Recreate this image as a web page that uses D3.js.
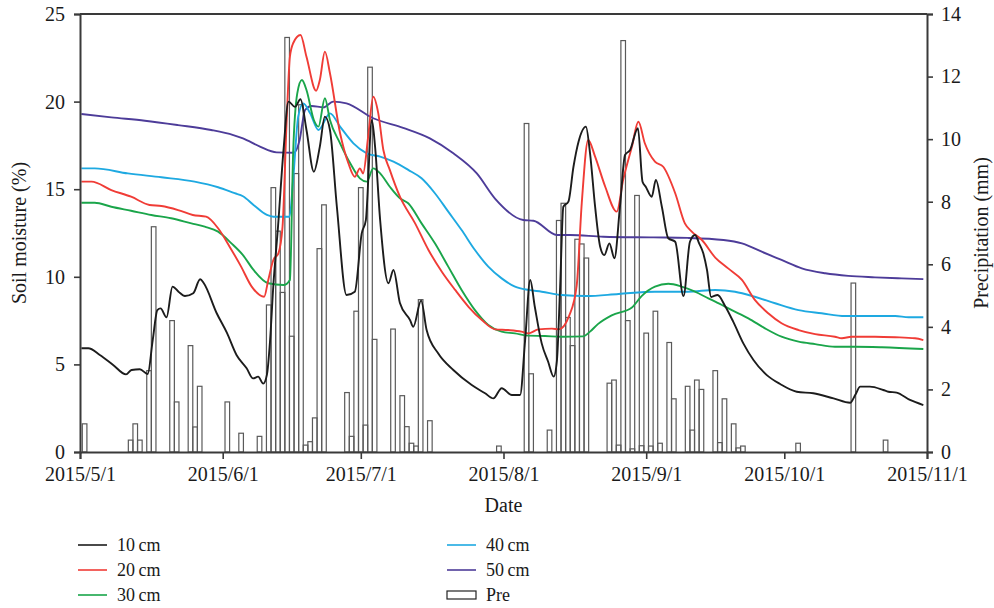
<!DOCTYPE html>
<html>
<head>
<meta charset="utf-8">
<script src="https://cdn.jsdelivr.net/npm/d3@7"></script>
<style>
  body { margin: 0; background: #fff; }
  svg text { font-family: 'Liberation Serif', 'DejaVu Serif', serif; fill: #1a1a1a; }
</style>
</head>
<body>
<div id="chart"></div>
<script>
// days counted from 2015/5/1
const monthDays = [0, 31, 61, 92, 123, 153, 184];
const monthLabels = ['2015/5/1', '2015/6/1', '2015/7/1', '2015/8/1', '2015/9/1', '2015/10/1', '2015/11/1'];
const moistureTicks = [0, 5, 10, 15, 20, 25];
const precipTicks = [0, 2, 4, 6, 8, 10, 12, 14];

// soil moisture (%), [day, value]
const soil10 = [
  [0.3, 5.92], [1.8, 5.92], [4.3, 5.54], [7.2, 4.97], [10, 4.43], [11.2, 4.68], [13, 4.72], [14.7, 4.45],
  [15.8, 6.39], [16.8, 8.1], [17.5, 8.2], [18.8, 7.69], [20.1, 9.44], [21.4, 9.15], [22.8, 8.9], [24.6, 9.06],
  [26.1, 9.86], [26.9, 9.63], [29.7, 7.92], [31.9, 6.81], [34, 5.54], [36.2, 4.78], [37.6, 4.2], [38.7, 4.3],
  [39.8, 3.9], [40.6, 4.4], [41.3, 6.4], [42, 9.5], [43, 12.8], [44.2, 17.2], [45.3, 20.0], [46.7, 19.7],
  [47.9, 20.13], [49.2, 18.38], [50.8, 16.0], [52.1, 17.43], [53.2, 19.14], [54.3, 18.38], [55.8, 14.0],
  [57.9, 8.96], [59.7, 9.15], [61.2, 12.48], [62.1, 13.24], [63.4, 18.95], [64.1, 17.43], [65.2, 13.24],
  [67, 9.63], [68.1, 10.39], [69.5, 8.5], [71.7, 7.53], [72.4, 7.15], [74.1, 8.64], [75.3, 6.96], [77.8, 5.63],
  [81.1, 4.68], [85.1, 3.82], [88, 3.35], [89.8, 3.06], [91.6, 3.64], [93.8, 3.25], [95.6, 3.25], [96.7, 6.39],
  [97.8, 9.82], [98.8, 8.29], [100.3, 6.2], [101.7, 5.15], [102.9, 4.3], [103.6, 5.2], [104.3, 9.4], [105, 14.0],
  [106.1, 14.29], [107.2, 16.28], [108.3, 17.71], [109.9, 18.57], [110.8, 17.05], [111.9, 14.0], [113, 11.72],
  [113.9, 11.24], [115, 11.91], [116.1, 11.06], [117.3, 14.0], [118.4, 16.95], [119.5, 17.24], [121.2, 18.48],
  [122.2, 15.43], [122.9, 15.14], [124.2, 14.57], [125.1, 15.53], [126.4, 14.0], [127.8, 12.2], [129.3, 12.0],
  [131.1, 8.9], [132.5, 12.0], [133.6, 12.39], [134.5, 11.91], [135.4, 11.34], [136.2, 10.4], [137.1, 8.85],
  [138.5, 8.96], [140.1, 8.35], [141.9, 7.44], [144.1, 6.2], [146.3, 5.25], [149.2, 4.39], [152.1, 3.88],
  [155.7, 3.44], [159.3, 3.35], [163.7, 3.06], [167.3, 2.81], [168.4, 3.25], [169.5, 3.73], [171.6, 3.73],
  [174.5, 3.54], [175.6, 3.44], [177.4, 3.39], [180.3, 2.97], [183.2, 2.68]
];
const soil20 = [
  [0.3, 15.43], [2.5, 15.43], [6.8, 14.95], [11.1, 14.57], [15.1, 14.1], [17.7, 14.04], [21.3, 13.81],
  [24.5, 13.53], [27.4, 13.43], [30, 12.77], [32.5, 11.72], [35, 10.58], [37.3, 9.44], [40, 8.86], [40.9, 9.82],
  [42, 10.96], [43.1, 11.34], [44, 12.86], [44.9, 18.95], [45.6, 22.56], [46.3, 23.33], [47.9, 23.8],
  [49.2, 22.56], [51.3, 20.62], [52.1, 21.23], [53.2, 22.85], [54.3, 21.62], [56.5, 18.19], [58.3, 16.48],
  [59.7, 15.71], [60.8, 16.19], [61.5, 15.9], [62.6, 18.0], [63.7, 20.28], [64.8, 19.33], [65.9, 17.24],
  [67.3, 16.1], [69.5, 14.57], [72.8, 13.05], [75.7, 11.53], [78.6, 10.29], [81.5, 9.25], [84.4, 8.29],
  [87.3, 7.53], [90.2, 7.0], [93, 6.96], [95.9, 6.87], [97.4, 6.77], [99.6, 7.0], [102.5, 7.04], [104, 7.0],
  [106.3, 7.8], [107.9, 9.5], [109, 14.2], [110.4, 17.81], [111.9, 16.86], [114.1, 15.14], [116.6, 13.72],
  [118, 15.53], [119.9, 17.43], [121.3, 18.85], [122.7, 17.62], [124.9, 16.57], [126.7, 16.28], [129.3, 14.77],
  [131.4, 13.05], [132.9, 12.58], [135.1, 12.1], [138, 11.1], [140.8, 10.48], [143.8, 9.82], [146.6, 8.68],
  [149.5, 7.92], [152.4, 7.35], [156.1, 6.96], [159.7, 6.73], [164, 6.58], [165.5, 6.49], [167.6, 6.58],
  [172.7, 6.58], [177.1, 6.55], [181.4, 6.49], [183.2, 6.39]
];
const soil30 = [
  [0.3, 14.23], [3.2, 14.23], [6.8, 14.0], [11.1, 13.77], [15.5, 13.53], [19.8, 13.34], [24.2, 13.05],
  [27.1, 12.86], [30, 12.58], [32.9, 11.91], [35.4, 11.24], [37.7, 10.39], [40.9, 9.63], [44.2, 9.53],
  [45.6, 9.82], [46.3, 17.05], [47.2, 20.47], [48.2, 21.23], [49.2, 20.66], [50.8, 18.95], [51.8, 18.57],
  [53.2, 20.19], [54.3, 18.95], [56.5, 17.62], [58.7, 16.48], [60.8, 15.62], [62.3, 15.43], [63.7, 16.19],
  [65.2, 15.9], [67.3, 15.14], [69.5, 14.48], [71.3, 14.2], [74.2, 13.05], [77.1, 11.91], [80, 10.58],
  [82.9, 9.25], [85.8, 8.1], [88.7, 7.25], [91.6, 6.87], [94.5, 6.77], [97.4, 6.64], [101, 6.62], [104.6, 6.58],
  [109.3, 6.6], [110.8, 6.87], [112.5, 7.3], [115.5, 7.8], [119.9, 8.25], [122, 8.9], [124.9, 9.44],
  [127.8, 9.6], [130.7, 9.44], [133.6, 9.15], [136.5, 8.77], [138, 8.58], [141.6, 8.1], [145.2, 7.63],
  [148.8, 7.06], [152.4, 6.58], [156.1, 6.3], [159.7, 6.16], [164, 6.01], [168.4, 6.01], [174.2, 5.98],
  [183.2, 5.88]
];
const soil40 = [
  [0.3, 16.19], [3.2, 16.19], [10.4, 15.9], [17.7, 15.68], [24.9, 15.43], [30, 15.11], [33.6, 14.77],
  [35.4, 14.6], [37.7, 14.1], [40.6, 13.53], [42, 13.43], [45.5, 13.43], [46.3, 15.53], [47.4, 19.14],
  [48.5, 19.9], [50, 19.33], [51.8, 18.38], [54.3, 19.33], [56.5, 18.57], [59.4, 17.62], [62.3, 17.05],
  [65.2, 16.86], [68.1, 16.57], [71.3, 16.1], [74.2, 15.62], [77.1, 14.77], [80, 13.72], [82.9, 12.67],
  [85.8, 11.53], [88.7, 10.58], [91.6, 9.91], [94.5, 9.44], [97.4, 9.25], [100.3, 9.15], [104.6, 8.96],
  [110, 8.9], [117, 9.02], [124.9, 9.15], [132, 9.15], [138, 9.25], [142.3, 9.15], [146.6, 8.86], [151, 8.49],
  [156.1, 8.1], [161.1, 7.92], [166.2, 7.76], [170.5, 7.76], [177.1, 7.76], [180, 7.69], [183.2, 7.69]
];
const soil50 = [
  [0.3, 19.29], [6.8, 19.1], [14.1, 18.91], [21.3, 18.66], [28.5, 18.38], [33.3, 18.09], [35.4, 17.9],
  [39.1, 17.43], [42.7, 17.1], [46.5, 17.08], [47.7, 17.8], [48.9, 19.52], [50.3, 19.75], [52.9, 19.67],
  [55, 20.0], [57.9, 19.9], [63.7, 19.05], [70.2, 18.5], [76, 17.9], [81.1, 17.05], [86.2, 15.9], [90.2, 14.45],
  [96.3, 13.24], [98.5, 13.2], [103.6, 12.39], [106.5, 12.39], [113.7, 12.29], [124.6, 12.25], [132, 12.22],
  [139.8, 12.1], [143.8, 11.91], [148.1, 11.43], [152.4, 10.96], [156.8, 10.48], [161.9, 10.2], [166.9, 10.05],
  [172.7, 9.97], [178.5, 9.91], [183.2, 9.87]
];

// daily precipitation (mm): day number (2015/5/1 = 1) and amount
const precipDay = [1, 11, 12, 13, 15, 16, 20, 21, 24, 25, 26, 32, 35, 39, 41, 42, 43, 44, 45, 46, 47, 48, 49, 50,
  51, 52, 53, 58, 59, 60, 61, 62, 63, 64, 68, 70, 71, 72, 73, 74, 76, 91, 97, 98, 102, 104, 105, 106, 107, 108,
  109, 110, 115, 116, 117, 118, 119, 120, 121, 122, 123, 124, 125, 126, 128, 129, 132, 133, 134, 135, 138, 139,
  140, 142, 143, 144, 156, 168, 175];
const precipMm = [0.9, 0.38, 0.9, 0.38, 2.6, 7.2, 4.2, 1.6, 3.4, 0.8, 2.1, 1.6, 0.6, 0.5, 4.7, 8.45, 7.06, 5.1, 13.25,
  3.7, 8.9, 11.1, 0.22, 0.33, 1.09, 6.5, 7.9, 1.9, 0.5, 4.5, 8.45, 0.86, 12.3, 3.6, 3.93, 1.8, 0.81, 0.28, 0.19,
  4.87, 1.0, 0.19, 10.5, 2.5, 0.7, 7.4, 7.95, 4.3, 3.4, 6.8, 6.65, 6.2, 2.2, 2.3, 0.22, 13.15, 4.2, 0.1, 8.2, 0.2,
  3.8, 0.19, 4.5, 0.28, 3.5, 1.7, 2.1, 0.7, 2.3, 2.0, 2.6, 0.3, 1.7, 0.9, 0.13, 0.19, 0.28, 5.4, 0.38];

const series = [
  { name: '10\u2009cm', color: '#1c1c1c', data: soil10 },
  { name: '20\u2009cm', color: '#f03c36', data: soil20 },
  { name: '30\u2009cm', color: '#1aa54a', data: soil30 },
  { name: '40\u2009cm', color: '#1ea9e1', data: soil40 },
  { name: '50\u2009cm', color: '#4d3c99', data: soil50 }
];

const W = 994, H = 608;
const margin = { top: 14, right: 67, bottom: 156, left: 80 };
const width = W - margin.left - margin.right;
const height = H - margin.top - margin.bottom;
const axisColor = '#3a3a3a';

const svg = d3.select('#chart').append('svg')
  .attr('width', W)
  .attr('height', H);

const g = svg.append('g').attr('transform', `translate(${margin.left}, ${margin.top})`);

const x = d3.scaleLinear().domain([0, 184]).range([0, width]);
const yL = d3.scaleLinear().domain([0, 25]).range([height, 0]);
const yR = d3.scaleLinear().domain([0, 14]).range([height, 0]);

// precipitation bars
const dayW = x(1) - x(0);
g.append('g').attr('class', 'bars')
  .selectAll('rect')
  .data(precipDay.map((d, i) => ({ day: d, mm: precipMm[i] })))
  .join('rect')
  .attr('x', d => x(d.day) - dayW / 2)
  .attr('y', d => yR(d.mm))
  .attr('width', dayW)
  .attr('height', d => height - yR(d.mm))
  .attr('fill', 'none')
  .attr('stroke', '#5a5a5a')
  .attr('stroke-width', 1.2);

// soil moisture lines, deepest first so 10 cm sits on top
const line = d3.line()
  .x(d => x(d[0]))
  .y(d => yL(d[1]))
  .curve(d3.curveMonotoneX);

g.append('g').attr('class', 'lines')
  .selectAll('path')
  .data(series.slice().reverse())
  .join('path')
  .attr('d', d => line(d.data))
  .attr('fill', 'none')
  .attr('stroke', d => d.color)
  .attr('stroke-width', 1.9)
  .attr('stroke-linejoin', 'round');

// axes
const styleAxis = (sel) => {
  sel.select('.domain').attr('stroke', axisColor).attr('stroke-width', 2);
  sel.selectAll('.tick line').attr('stroke', axisColor).attr('stroke-width', 1.6);
  sel.selectAll('.tick text').attr('font-size', 20).attr('fill', '#1a1a1a')
    .attr('font-family', "'Liberation Serif', 'DejaVu Serif', serif");
};

g.append('g')
  .attr('transform', `translate(0, ${height})`)
  .call(d3.axisBottom(x).tickValues(monthDays).tickFormat((d, i) => monthLabels[i]).tickSizeOuter(0).tickSize(7).tickPadding(8))
  .call(styleAxis);

g.append('g')
  .call(d3.axisLeft(yL).tickValues(moistureTicks).tickSizeOuter(0).tickSize(6).tickPadding(9))
  .call(styleAxis);

g.append('g')
  .attr('transform', `translate(${width}, 0)`)
  .call(d3.axisRight(yR).tickValues(precipTicks).tickSizeOuter(0).tickSize(6).tickPadding(8))
  .call(styleAxis);

g.append('line')
  .attr('x1', 0).attr('x2', width)
  .attr('y1', 0).attr('y2', 0)
  .attr('stroke', axisColor)
  .attr('stroke-width', 2);

// axis titles
svg.append('text')
  .attr('transform', `translate(26, ${margin.top + height / 2}) rotate(-90)`)
  .attr('text-anchor', 'middle')
  .attr('font-size', 20)
  .text('Soil moisture (%)');

svg.append('text')
  .attr('transform', `translate(${W - 6}, ${margin.top + height / 2}) rotate(-90)`)
  .attr('text-anchor', 'middle')
  .attr('font-size', 20)
  .text('Precipitation (mm)');

svg.append('text')
  .attr('x', margin.left + width / 2)
  .attr('y', 512)
  .attr('text-anchor', 'middle')
  .attr('font-size', 20)
  .text('Date');

// legend
const legendItems = series.map(s => ({ name: s.name, color: s.color, type: 'line' }))
  .concat([{ name: 'Pre', type: 'bar' }]);

const legend = svg.append('g').attr('class', 'legend');
const item = legend.selectAll('g')
  .data(legendItems)
  .join('g')
  .attr('transform', (d, i) => `translate(${i < 3 ? 78 : 447}, ${545 + (i % 3) * 25})`);

item.filter(d => d.type === 'line').append('line')
  .attr('x1', 0).attr('x2', 29)
  .attr('stroke', d => d.color)
  .attr('stroke-width', 1.6);

item.filter(d => d.type === 'bar').append('rect')
  .attr('x', 0).attr('y', -4)
  .attr('width', 29).attr('height', 8)
  .attr('fill', 'none')
  .attr('stroke', '#222')
  .attr('stroke-width', 1.2);

item.append('text')
  .attr('x', 39)
  .attr('dy', '0.34em')
  .attr('font-size', 18)
  .text(d => d.name);
</script>
</body>
</html>
